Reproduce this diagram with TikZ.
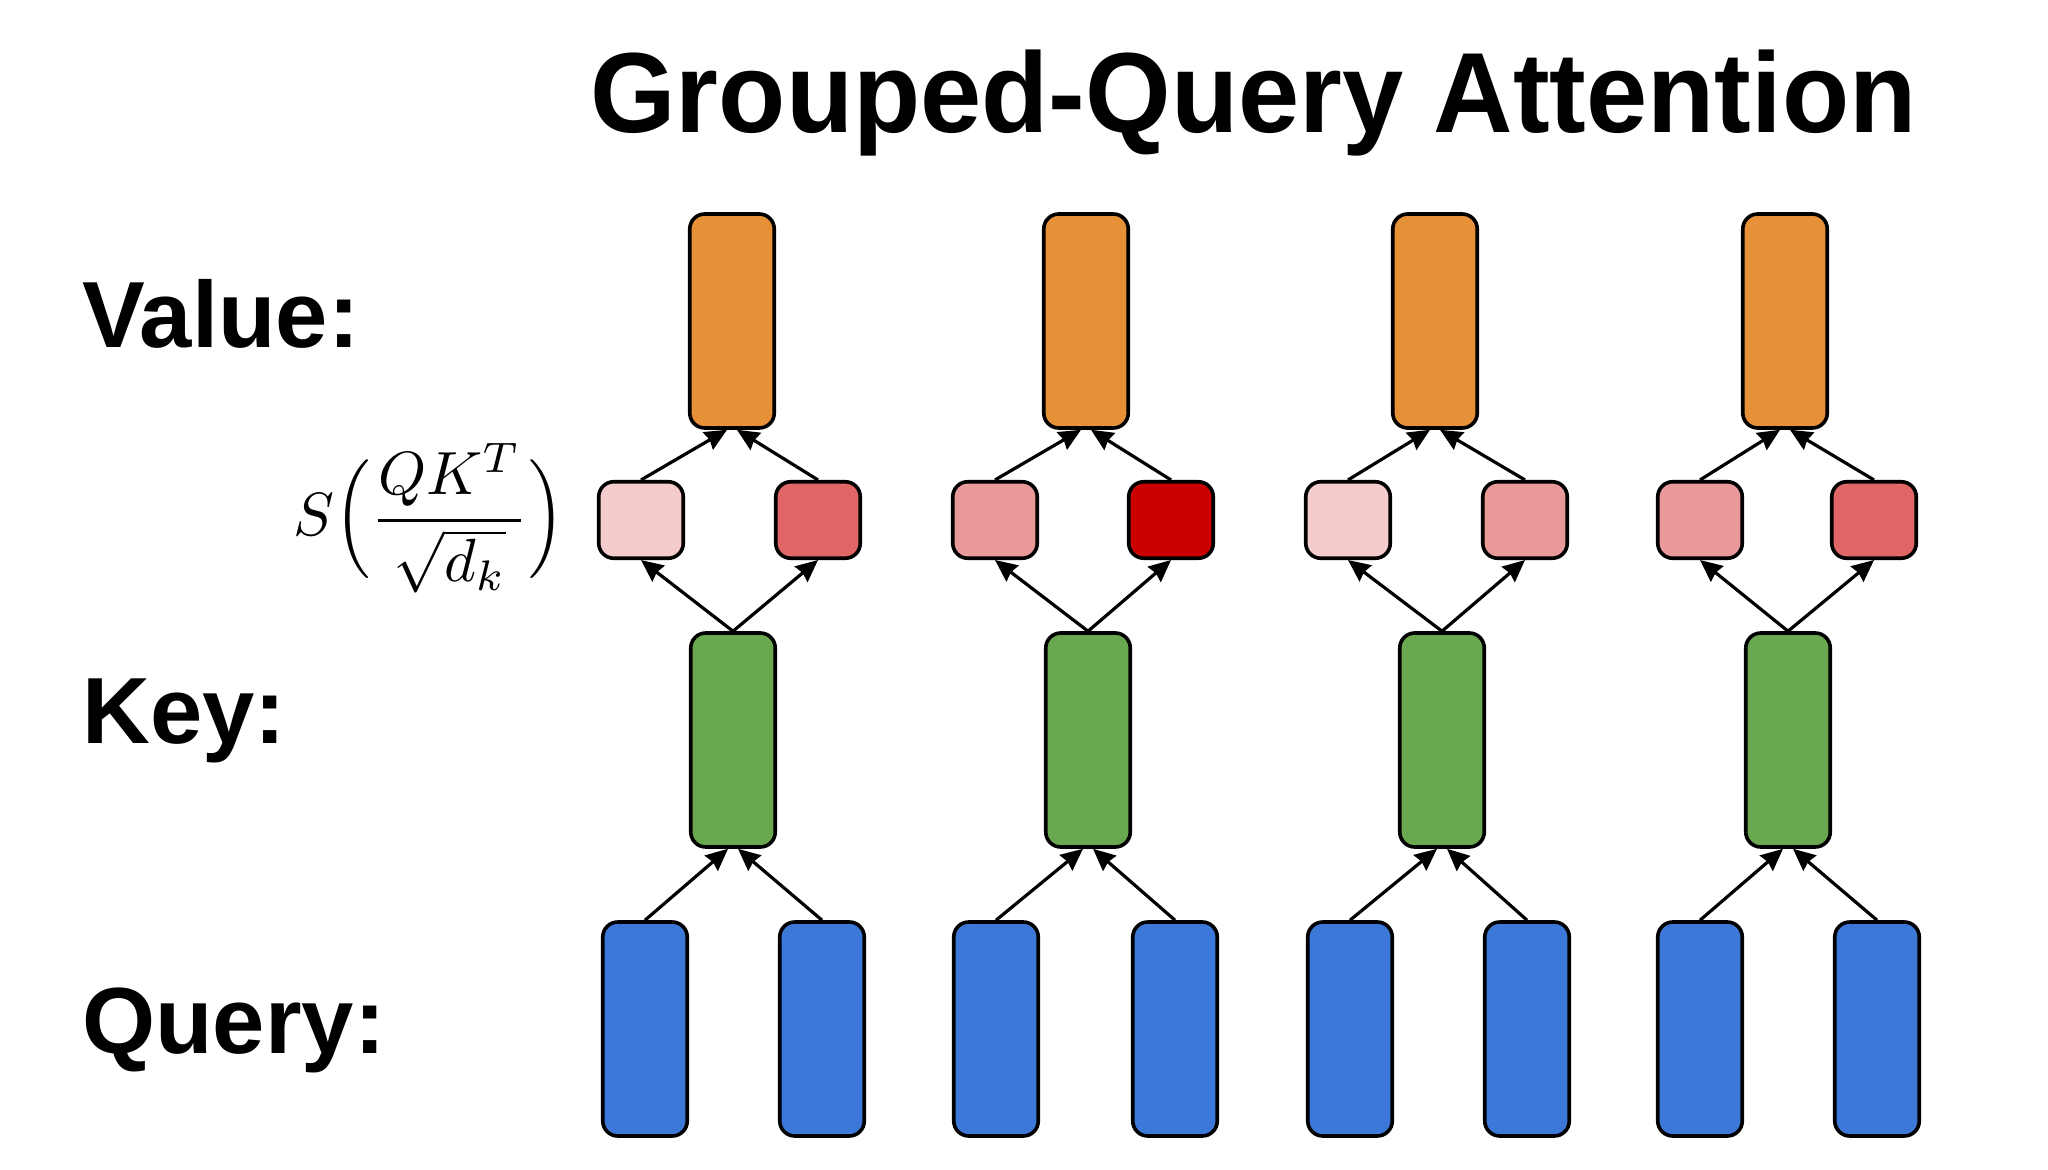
\documentclass[tikz,border=0pt]{standalone}
\usepackage{graphicx}
\usepackage{fontspec}
\setmainfont{Liberation Sans}
\usetikzlibrary{arrows.meta,calc}
\definecolor{vorange}{HTML}{E69138}
\definecolor{kgreen}{HTML}{6AA84F}
\definecolor{qblue}{HTML}{3C78D8}
\definecolor{sA}{HTML}{F4CCCC}
\definecolor{sB}{HTML}{EA9999}
\definecolor{sC}{HTML}{E06666}
\definecolor{sD}{HTML}{CC0000}
\begin{document}
\begin{tikzpicture}[x=0.5pt,y=-0.5pt,
  tallbox/.style={draw=black, line width=1.8pt, rounded corners=7.5pt, minimum width=42.25pt, minimum height=107pt, inner sep=0pt},
  smallbox/.style={draw=black, line width=1.8pt, rounded corners=7.5pt, minimum width=42.25pt, minimum height=38.25pt, inner sep=0pt},
  conn/.style={line width=1.6pt, -{Stealth[length=11pt,width=10pt,inset=1pt]}},
  lbl/.style={anchor=base west, inner sep=0pt, font=\fontsize{47}{50}\selectfont\bfseries}]
\useasboundingbox[fill=white] (0,0) rectangle (2048,1170);

\node[anchor=base west, inner sep=0pt, font=\fontsize{57}{60}\selectfont\bfseries] (title) at (590,133) {\scalebox{0.965}[1]{Grouped-Query Attention}};

\node[lbl] (lv) at (82,348) {Value:};
\node[lbl] (lk) at (82,743) {Key:};
\node[lbl] (lq) at (82,1053) {Query:};

\node[inner sep=0pt, anchor=west] (f) at (293,518) {\scalebox{3.05}{$\displaystyle S\mathopen{\scalebox{1}[1.08]{$\Bigl($}}\frac{QK^T}{\sqrt{d_k}}\mathclose{\scalebox{1}[1.08]{$\Bigr)$}}$}};

\foreach \n/\x in {1/732,2/1086,3/1435,4/1785}
  \node[tallbox, fill=vorange] (v\n) at (\x,321) {};
\foreach \n/\x in {1/733,2/1088,3/1442,4/1788}
  \node[tallbox, fill=kgreen] (k\n) at (\x,740) {};
\foreach \n/\x in {1/645,2/822,3/996,4/1175,5/1350,6/1527,7/1700,8/1877}
  \node[tallbox, fill=qblue] (q\n) at (\x,1029) {};

\node[smallbox, fill=sA] (s1) at (641,520) {};
\node[smallbox, fill=sC] (s2) at (818,520) {};
\node[smallbox, fill=sB] (s3) at (995,520) {};
\node[smallbox, fill=sD] (s4) at (1171,520) {};
\node[smallbox, fill=sA] (s5) at (1348,520) {};
\node[smallbox, fill=sB] (s6) at (1525,520) {};
\node[smallbox, fill=sB] (s7) at (1700,520) {};
\node[smallbox, fill=sC] (s8) at (1874,520) {};

\foreach \i/\a/\b in {1/1/2,2/3/4,3/5/6,4/7/8} {
  \draw[conn] (s\a.north) -- ($(v\i.south)+(-5,0)$);
  \draw[conn] (s\b.north) -- ($(v\i.south)+(5,0)$);
  \draw[conn] (k\i.north) -- (s\a.south);
  \draw[conn] (k\i.north) -- (s\b.south);
  \draw[conn] (q\a.north) -- ($(k\i.south)+(-5,0)$);
  \draw[conn] (q\b.north) -- ($(k\i.south)+(5,0)$);
}
\end{tikzpicture}
\end{document}
